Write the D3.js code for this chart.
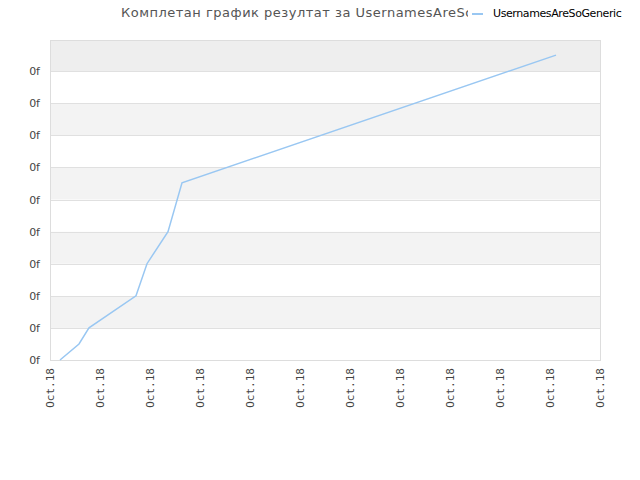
<!DOCTYPE html>
<html>
<head>
<meta charset="utf-8">
<script src="https://cdn.jsdelivr.net/npm/d3@7"></script>
<style>
  body { margin: 0; background: #fff; }
  svg { display: block; }
</style>
</head>
<body>
<div id="chart"></div>
<script>
// chart values
var title = "Комплетан график резултат за UsernamesAreSoGeneric";
var series_name = "UsernamesAreSoGeneric";
var x_ticks = d3.range(12);           // 12 date ticks
var x_tick_label = "Oct.18";
var y_ticks = d3.range(10);           // 10 value ticks
var y_tick_label = "0f";
var xs = [0.2, 0.58, 0.78, 1.72, 1.94, 2.36, 2.64, 10.12];
var ys = [0, 0.5, 1.0, 2.0, 3.0, 4.0, 5.52, 9.5];

var width = 640, height = 480,
    plot_left = 50, plot_right = 600, plot_top = 40, plot_bottom = 360;

var svg = d3.select("#chart").append("svg")
    .attr("width", width)
    .attr("height", height);

var x = d3.scaleLinear().domain([0, 11]).range([plot_left, plot_right]);
var y = d3.scaleLinear().domain([0, 9.97]).range([plot_bottom, plot_top]);

/* alternating bands between the grid lines */
var bands = y_ticks.map(function (d) { return [d, Math.min(d + 1, 9.97)]; });
svg.selectAll(".band")
    .data(bands)
    .enter().append("rect")
    .attr("x", plot_left)
    .attr("width", plot_right - plot_left)
    .attr("y", function (d) { return y(d[1]); })
    .attr("height", function (d) { return y(d[0]) - y(d[1]); })
    .style("fill", function (d, i) {
        if (i == 9) return "#eeeeee";
        return i % 2 == 1 ? "#f3f3f3" : "#ffffff";
    });

/* grid lines */
svg.selectAll(".grid")
    .data(y_ticks.slice(1))
    .enter().append("line")
    .attr("x1", plot_left).attr("x2", plot_right)
    .attr("y1", function (d) { return Math.round(y(d)) + 0.5; })
    .attr("y2", function (d) { return Math.round(y(d)) + 0.5; })
    .style("stroke", "#e0e0e0");

/* frame */
svg.append("rect")
    .attr("x", plot_left + 0.5).attr("y", plot_top + 0.5)
    .attr("width", plot_right - plot_left).attr("height", plot_bottom - plot_top)
    .style("fill", "none")
    .style("stroke", "#dddddd");

/* y axis */
var yAxis = d3.axisLeft(y)
    .tickValues(y_ticks)
    .tickSize(0)
    .tickPadding(10)
    .tickFormat(function () { return y_tick_label; });
var gy = svg.append("g")
    .attr("transform", "translate(" + plot_left + ",0)")
    .call(yAxis);
gy.select(".domain").remove();
gy.selectAll("text")
    .style("font-family", "DejaVu Sans")
    .style("font-size", "11px")
    .style("fill", "#444");

/* x axis */
var xAxis = d3.axisBottom(x)
    .tickValues(x_ticks)
    .tickSize(0)
    .tickPadding(0)
    .tickFormat(function () { return x_tick_label; });
var gx = svg.append("g")
    .attr("transform", "translate(0," + plot_bottom + ")")
    .call(xAxis);
gx.select(".domain").remove();
gx.selectAll("text")
    .attr("transform", "rotate(-90)")
    .attr("x", -8)
    .attr("y", 0)
    .attr("dy", "0.35em")
    .style("text-anchor", "end")
    .style("font-family", "DejaVu Sans Mono")
    .style("font-size", "11px")
    .style("fill", "#444");

/* the series line */
var line = d3.line()
    .x(function (d) { return x(d[0]); })
    .y(function (d) { return y(d[1]); });
svg.append("path")
    .datum(d3.zip(xs, ys))
    .attr("d", line)
    .style("fill", "none")
    .style("stroke", "#99c7f2")
    .style("stroke-width", 1.5);

/* title, cut off where the legend begins */
svg.append("clipPath")
    .attr("id", "title_clip")
    .append("rect")
    .attr("x", 0).attr("y", 0)
    .attr("width", 468).attr("height", 30);
svg.append("text")
    .attr("clip-path", "url(#title_clip)")
    .attr("x", 121)
    .attr("y", 17)
    .style("font-family", "DejaVu Sans")
    .style("font-size", "13px")
    .style("letter-spacing", "0.5px")
    .style("fill", "#555")
    .text(title);

/* legend */
svg.append("line")
    .attr("x1", 472).attr("x2", 483)
    .attr("y1", 14).attr("y2", 14)
    .style("stroke", "#99c7f2")
    .style("stroke-width", 2);
svg.append("text")
    .attr("x", 493)
    .attr("y", 17)
    .style("font-family", "DejaVu Sans")
    .style("font-size", "11px")
    .style("letter-spacing", "-0.4px")
    .style("fill", "#000")
    .text(series_name);
</script>
</body>
</html>
